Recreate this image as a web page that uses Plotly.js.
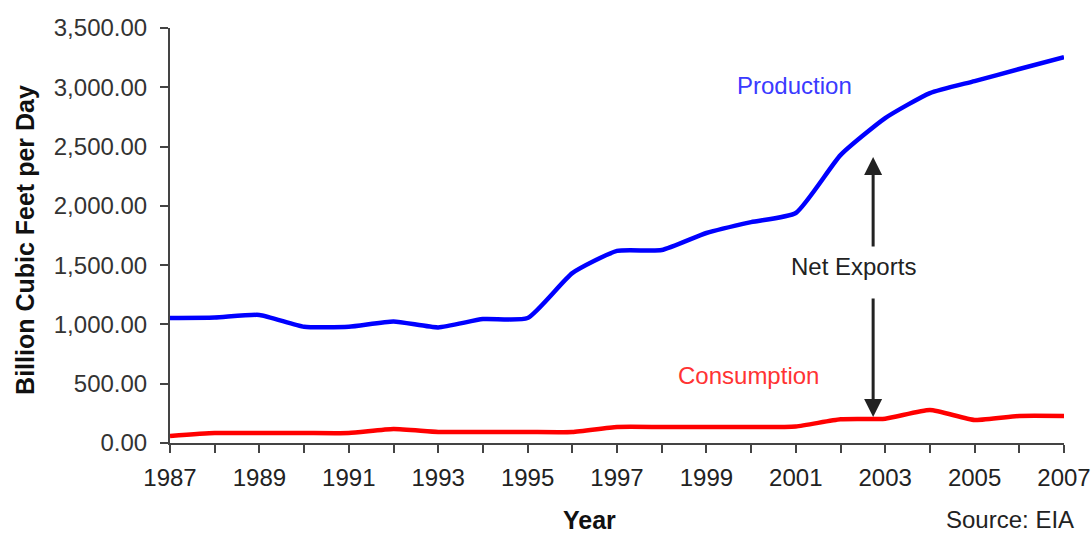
<!DOCTYPE html>
<html>
<head>
<meta charset="utf-8">
<script src="https://cdn.plot.ly/plotly-3.0.1.min.js"></script>
<style>html,body{margin:0;padding:0;background:#fff;}#chart{width:1091px;height:533px;}</style>
</head>
<body>
<div id="chart"></div>
<script>
const years = [1987,1988,1989,1990,1991,1992,1993,1994,1995,1996,1997,1998,1999,2000,2001,2002,2003,2004,2005,2006,2007];
const production = [1054,1058,1080,980,980,1025,975,1045,1054,1433,1620,1627,1771,1863,1940,2428,2740,2951,3052,3154,3255];
const consumption = [59,84,84,84,84,118,93,93,93,93,135,135,135,135,140,200,205,278,194,228,228];
const tickYears = years;
const tickLabels = years.map(y => (y % 2 === 1 ? String(y) : ''));

const font = 'Arial, "Liberation Sans", sans-serif';

const traces = [
  {x: years, y: production, type: 'scatter', mode: 'lines', name: 'Production',
   line: {color: '#0000ff', width: 4.5, shape: 'spline', smoothing: 0.5}},
  {x: years, y: consumption, type: 'scatter', mode: 'lines', name: 'Consumption',
   line: {color: '#ff0000', width: 4.5, shape: 'spline', smoothing: 0.5}}
];

const layout = {
  width: 1091, height: 533,
  margin: {l: 170, r: 27, t: 28, b: 90},
  paper_bgcolor: '#fff', plot_bgcolor: '#fff',
  showlegend: false,
  font: {family: font, size: 24, color: '#333'},
  xaxis: {
    range: [1987, 2007], tickmode: 'array', tickvals: tickYears, ticktext: tickLabels,
    showgrid: false, zeroline: false, showline: true, linecolor: '#444', linewidth: 2,
    ticks: 'outside', ticklen: 8, tickwidth: 2, tickcolor: '#444',
    tickfont: {family: font, size: 24, color: '#222'}, ticklabelstandoff: 4
  },
  yaxis: {
    range: [0, 3500], dtick: 500, tick0: 0, tickformat: ',.2f',
    showgrid: false, zeroline: false, showline: true, linecolor: '#444', linewidth: 2,
    ticks: 'outside', ticklen: 8, tickwidth: 2, tickcolor: '#444',
    tickfont: {family: font, size: 24, color: '#333'}, ticklabelstandoff: 8
  },
  annotations: [
    {text: 'Production', xref: 'x', yref: 'y', x: 2000.97, y: 3017, showarrow: false,
     font: {family: font, size: 24, color: '#3a3aff'}},
    {text: 'Consumption', xref: 'x', yref: 'y', x: 1999.95, y: 573, showarrow: false,
     font: {family: font, size: 24, color: '#ff3333'}},
    {text: 'Net Exports', xref: 'x', yref: 'y', x: 2002.3, y: 1485, showarrow: false,
     font: {family: font, size: 24, color: '#222'}},
    {text: '', xref: 'x', yref: 'y', x: 2002.73, y: 2412, axref: 'x', ayref: 'y', ax: 2002.73, ay: 1644,
     showarrow: true, arrowhead: 2, arrowsize: 1.2, arrowwidth: 3, arrowcolor: '#222'},
    {text: '', xref: 'x', yref: 'y', x: 2002.73, y: 219, axref: 'x', ayref: 'y', ax: 2002.73, ay: 1231,
     showarrow: true, arrowhead: 2, arrowsize: 1.2, arrowwidth: 3, arrowcolor: '#222'},
    {text: '<b>Billion Cubic Feet per Day</b>', xref: 'paper', yref: 'paper', x: -0.163, y: 0.49,
     xanchor: 'center', yanchor: 'middle', textangle: -90, showarrow: false,
     font: {family: font, size: 25, color: '#111'}},
    {text: '<b>Year</b>', xref: 'paper', yref: 'paper', x: 0.469, y: -0.185, xanchor: 'center', yanchor: 'middle',
     showarrow: false, font: {family: font, size: 25, color: '#111'}},
    {text: 'Source: EIA', xref: 'paper', yref: 'paper', x: 0.94, y: -0.185, xanchor: 'center', yanchor: 'middle',
     showarrow: false, font: {family: font, size: 24, color: '#222'}}
  ]
};

Plotly.newPlot('chart', traces, layout, {staticPlot: true, displayModeBar: false});
</script>
</body>
</html>
